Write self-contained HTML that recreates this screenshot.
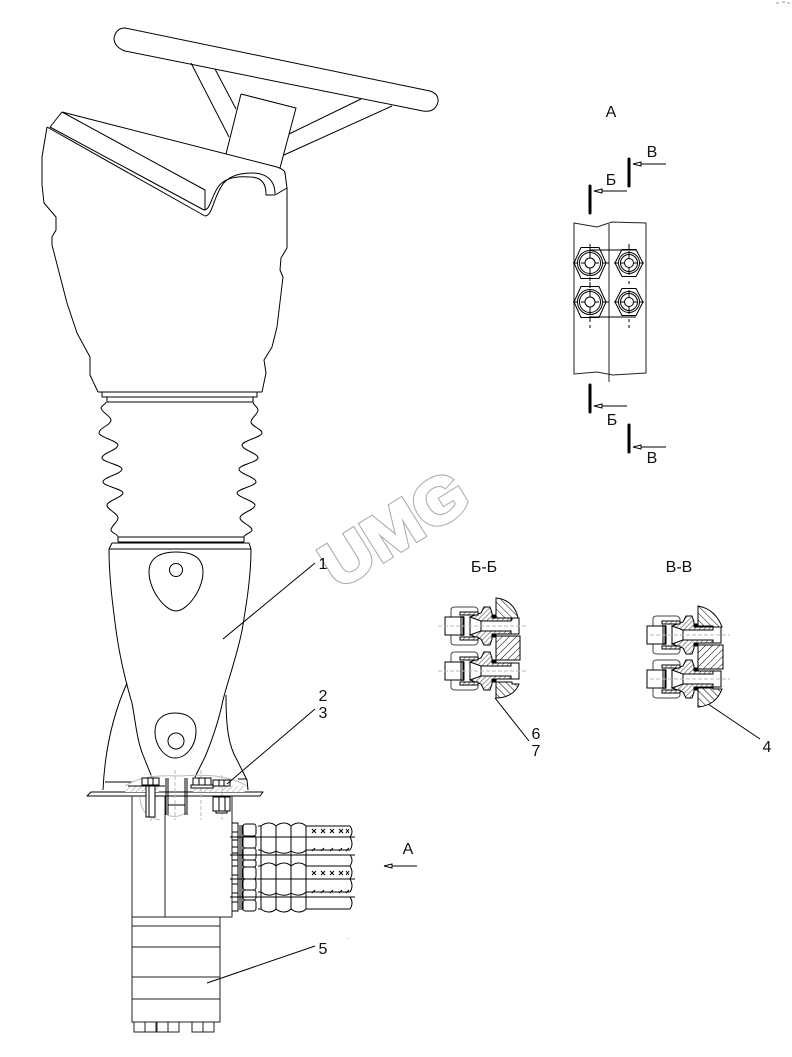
<!DOCTYPE html>
<html><head><meta charset="utf-8"><style>
html,body{margin:0;padding:0;background:#fff}
svg{display:block}
text{font-family:"Liberation Sans",sans-serif;font-size:16px;fill:#111;text-anchor:middle}
</style></head><body>
<svg width="792" height="1057" viewBox="0 0 792 1057" xmlns="http://www.w3.org/2000/svg">
<defs>
<pattern id="h" width="5" height="5" patternUnits="userSpaceOnUse" patternTransform="rotate(-45)"><rect width="5" height="5" fill="#fff"/><line x1="0" y1="0" x2="0" y2="5" stroke="#000" stroke-width="1"/></pattern>
<pattern id="h4" width="5" height="5" patternUnits="userSpaceOnUse" patternTransform="rotate(45)"><rect width="5" height="5" fill="#fff"/><line x1="0" y1="0" x2="0" y2="5" stroke="#000" stroke-width="1"/></pattern>
<pattern id="h2" width="3.500" height="3.500" patternUnits="userSpaceOnUse" patternTransform="rotate(45)"><rect width="3.500" height="3.500" fill="#fff"/><line x1="0" y1="0" x2="0" y2="3.500" stroke="#222" stroke-width=".9"/></pattern>
<pattern id="h3" width="4" height="4" patternUnits="userSpaceOnUse" patternTransform="rotate(45)"><rect width="4" height="4" fill="#fff"/><line x1="0" y1="0" x2="0" y2="4" stroke="#999" stroke-width="1"/></pattern>
<g id="fit" fill="none" stroke="#000" stroke-width="1">
<path d="M-18-13V-16Q-19-19-22-19H-41Q-45-19-45-16V-9M-18 13V16Q-19 19-22 19H-41Q-45 19-45 16V9" stroke="#444"/>
<path d="M-26-9L-15-5H15V-8H-4V-13L-6-19H-12L-15-13L-18-12Z" fill="url(#h2)"/>
<path d="M-26 9L-15 5H15V8H-4V13L-6 19H-12L-15 13L-18 12Z" fill="url(#h2)"/>
<path d="M-36-14H-18V-11H-36ZM-36 11H-18V14H-36Z" fill="url(#h2)"/>
<path d="M-51-9H-32V9H-51ZM-35-10V10M-33-10V10M-26-9V9M-15-5V5"/>
<path d="M-3-11H0V-8H-3ZM-3 8H0V11H-3Z" fill="#000"/>
<path d="M15-8H23V8H15"/>
</g>
<g id="hexL" fill="none" stroke="#000">
<path d="M-16 0L-9-15.500H9L16 0L9 15.500H-9Z"/><circle r="12.500"/><circle r="10.500"/><circle r="5"/>
<path d="M-17 0H-13M-9 0H-5M5 0H9M13 0H19M0-18V-14M0-12V-5M0 5V12M0 14V18" stroke-width="1"/>
</g>
<g id="hexR" fill="none" stroke="#000">
<path d="M-14 0L-7-13.500H7L14 0L7 13.500H-7Z"/><circle r="10.500"/><circle r="8.500"/><circle r="4.500"/>
<path d="M-15 0H-11M-8 0H-4M4 0H8M11 0H15M0-12V-4M0 4V12"/>
</g>
</defs>
<rect width="792" height="1057" fill="#fff"/>

<!-- watermark -->
<text x="338" y="590" transform="rotate(-32 338 590)" textLength="160" lengthAdjust="spacingAndGlyphs" style="font-size:64px;font-weight:bold;fill:#aaa;stroke:#aaa;stroke-width:4;text-anchor:start">UMG</text>
<text x="338" y="590" transform="rotate(-32 338 590)" textLength="160" lengthAdjust="spacingAndGlyphs" style="font-size:64px;font-weight:bold;fill:#fff;stroke:#fff;stroke-width:2;text-anchor:start">UMG</text>

<g fill="none" stroke="#000" stroke-width="1" stroke-linejoin="round">
<!-- handle -->
<path d="M125 28L430 91Q439 94 438 102Q435 113 423 111L125 51Q114 47 114 38Q116 28 125 28Z"/>
<path d="M191 63L229 137M215 69L236 109M361 99L289 134M392 106L284 155"/>
<path d="M241 94L296 108L280 168M241 94L226 154"/>
<!-- head -->
<path d="M62 112L277 167Q285 170 285 173L287 188M62 112L205 190V210M62 112L50 127L204 210M47 127L205 216"/>
<path d="M47 127L42 157L42 185L44 203L56 217V230L52 237V245L67 303L77 333L90 357V375L98 392"/>
<path d="M287 188V248L281 258L280 270L283 277L277 327L272 347L264 360L266 373L262 392"/>
<path d="M205 216C212 216 213 200 221 187C227 176 240 173 252 173C266 173 275 180 275 194M204 210C210 210 211 198 218 187C225 177 238 176 250 177C260 177 266 182 266 194V195H275L287 188"/>
<path d="M98 392H262M102 392V397H257V392M107 397V402H253V397"/>
<!-- bellows -->
<path d="M106 402C106 404 101 406 101 408C101 412 111 416 111 420C111 425 99 428 99 433C99 437 118 441 118 445C118 450 102 453 102 458C102 462 122 465 122 469C122 474 103 477 103 482C103 486 123 489 123 493C123 497 107 501 107 505C107 510 118 513 118 518C118 522 111 526 111 530C111 533 118 534 118 537"/>
<path d="M253 402C253 405 258 407 258 410C258 414 251 418 251 422C251 426 262 429 262 433C262 437 242 441 242 445C242 450 258 453 258 458C258 462 239 465 239 469C239 474 256 477 256 482C256 486 237 489 237 493C237 497 255 501 255 505C255 510 240 513 240 518C240 522 252 526 252 530C252 533 244 534 244 537"/>
<!-- lower body -->
<path d="M118 537H244M118 542H244M112 543H249L251 549M112 543L109 549H251M118 537V542M244 537V542"/>
<path d="M109 549C109 575 112 600 116 630C120 660 128 690 132 703C136 725 137 740 143 755L153 780"/>
<path d="M251 549C251 575 247 600 243 625C239 650 228 680 223 700C218 725 210 745 205 757L195 777"/>
<path d="M127 683C115 710 105 745 103 790M226 695C226 725 228 745 237 760L247 780L248 790"/>
<path d="M176 552C190 552 203 556 203 572C203 590 187 611 176 611C165 611 149 590 149 572C149 556 163 552 176 552Z"/>
<circle cx="176" cy="570" r="6.500"/>
<path d="M175 713C186 713 196 718 196 731C196 746 186 758 175 758C165 758 155 746 155 732C155 718 165 713 175 713Z"/>
<circle cx="176" cy="741" r="8"/>
<!-- flange/plate -->
<path d="M105 782H133M238 779H247"/>
<path d="M91 792H263L260 796H87Z" fill="#fff"/>
</g>

<!-- hatch band and gray detail -->
<path d="M125 786H159V792H125ZM193 786H245V792H193ZM147 796H146V817H147Z" fill="url(#h3)" stroke="none"/>
<path d="M125 786C140 776 160 775 180 776C205 774 228 775 247 786" fill="none" stroke="#bbb" stroke-width="1"/>
<path d="M140 797C140 808 146 818 160 820M167 815Q177 819 187 812" fill="none" stroke="#bbb" stroke-width="1"/>
<path d="M175 770V820M201 770V820M222 775V820M151 775V822" fill="none" stroke="#bbb" stroke-dasharray="4 2"/>

<g fill="none" stroke="#000" stroke-width="1">
<!-- bolts -->
<path d="M142 778H159V785H142ZM148 778V785M153 778V785" fill="#fff"/>
<path d="M128 786H165"/>
<rect x="146" y="786" width="9" height="31" fill="#fff"/>
<path d="M149 786V817" />
<path d="M193 778H211V785H193ZM199 778V785M205 778V785M191 785H213V788H191ZM213 780H230V786H213ZM219 780V786M224 780V786" fill="#fff"/>
<path d="M213 797H230V811H213ZM219 797V811M225 797V811M216 811V813H227V811M212 796H232" fill="#fff"/>
<path d="M166 778V815M168 778V815M185 778V815M187 778V815"/>
<path d="M168 805H185"/>
<!-- main block -->
<path d="M132 796V917H232V796M165 796V917" stroke="#222"/>
<path d="M132 917V1022H220V917M132 926H220M132 947H220M132 977H220M132 999H220" stroke="#222"/>
<path d="M134 1022V1032H156V1022M145 1022V1032M157 1022V1032H179V1022M168 1022V1032M192 1022V1032H214V1022M203 1022V1032" stroke="#222"/>
<!-- hoses -->
<path d="M232 823H238V911H232M232 832H238M232 840H238M232 847H238M232 853H238M232 860H238M232 866H238M232 875H238M232 884H238M232 893H238M232 902H238"/>
<path d="M240 825V910M242 825V910"/>
<rect x="243" y="824" width="13" height="12" rx="2.500"/><rect x="243" y="836" width="13" height="12" rx="2.500"/><rect x="243" y="848" width="13" height="12" rx="2.500"/><rect x="243" y="860" width="13" height="7" rx="2"/><rect x="243" y="867" width="13" height="12" rx="2.500"/><rect x="243" y="879" width="13" height="11" rx="2.500"/><rect x="243" y="890" width="13" height="10" rx="2.500"/><rect x="243" y="900" width="13" height="11" rx="2.500"/>
<path d="M258 826H261C266 822 272 822 276 826C281 822 287 822 291 826C296 822 302 822 306 826H350"/>
<path d="M258 850H261C266 854 272 854 276 851C281 854 287 854 291 851C296 854 302 854 306 850H350"/>
<path d="M258 866H261C266 862 272 862 276 866C281 862 287 862 291 866C296 862 302 862 306 866H350"/>
<path d="M258 892H261C266 896 272 896 276 893C281 896 287 896 291 893C296 896 302 896 306 892H350"/>
<path d="M258 909H261C266 913 272 913 276 909C281 913 287 913 291 909C296 913 302 913 306 909H350"/>
<path d="M261 826V909M276 826V909M291 826V909M306 826V909" />
<path d="M230 837H355M230 855H355M230 879H355M230 897H355"/>
<path d="M350 826Q354 832 350 837Q354 844 350 850M350 855Q354 860 350 866M350 866Q354 872 350 879Q354 886 350 892M350 897Q354 903 350 909"/>
<path d="M312 829L316 833M316 829L312 833M321 829L325 833M325 829L321 833M330 829L334 833M334 829L330 833M339 829L343 833M343 829L339 833M346 829L349 833M349 829L346 833M312 871L316 875M316 871L312 875M321 871L325 875M325 871L321 875M330 871L334 875M334 871L330 875M339 871L343 875M343 871L339 875M346 871L349 875M349 871L346 875"/>
<path d="M312 851L315 848M321 851L324 848M330 851L333 848M339 851L342 848M346 851L349 848M312 893L315 890M321 893L324 890M330 893L333 890M339 893L342 890M346 893L349 890"/>
<!-- leaders -->
<path d="M223 639L315 563M227 784L315 709M207 983L315 946M495 698L529 741M708 704L760 739"/>
<!-- arrow A -->
<path d="M392 866H417M384 866L392 864V868Z" fill="#fff"/>
<!-- view A -->
<path d="M574 223L597 227L612 222L646 223V373L613 375L597 372L574 374Z" stroke="#222"/>
<path d="M609 224V382" stroke="#222"/>
<path d="M590 250H636M590 317H636" stroke="#000"/>
<use href="#hexL" x="590" y="263"/><use href="#hexL" x="590" y="302"/>
<use href="#hexR" x="629" y="263"/><use href="#hexR" x="629" y="302"/>
<path d="M590 244V250M590 282V284M590 320V322M590 325V328M629 244V250M629 281V284M629 319V322M629 325V328"/>
</g>
<g fill="none" stroke="#000">
<path d="M590 186V213M590 385V412M629 159V186M629 425V452" stroke-width="3" stroke-linecap="round"/>
<path d="M602 191H627M641 164H666M602 406H627M641 447H666"/>
<path d="M594 191L602 189V193ZM633 164L641 162V166ZM594 406L602 404V408ZM633 447L641 445V449Z" fill="#fff"/>
</g>

<!-- section Б-Б -->
<g stroke="#000" stroke-width="1">
<path d="M496 598C508 599 516 607 518 618H512V620H496Z" fill="url(#h)"/>
<path d="M496 636H520V660H496Z" fill="url(#h4)"/>
<path d="M496 682H512V684H519C516 692 508 698 496 698Z" fill="url(#h)"/>
</g>
<use href="#fit" x="496" y="626"/><use href="#fit" x="496" y="671"/>
<path d="M438 626H528M438 671H528" stroke="#bbb" stroke-dasharray="4 2" fill="none"/>

<!-- section В-В -->
<g stroke="#000" stroke-width="1">
<path d="M698 606C710 608 718 616 722 627H713V626H698Z" fill="url(#h)"/>
<path d="M698 645H723V669H698Z" fill="url(#h4)"/>
<path d="M698 688H713V689H722C718 700 710 706 698 707Z" fill="url(#h)"/>
</g>
<use href="#fit" x="698" y="635"/><use href="#fit" x="698" y="679"/>
<path d="M650 635H730M650 679H730" stroke="#bbb" stroke-dasharray="4 2" fill="none"/>

<!-- tiny specks -->
<path d="M776 3H779M782 2H785M787 3H790" stroke="#999" stroke-width="1" fill="none"/>
<path d="M348 938V939" stroke="#aaa" fill="none"/>

<!-- labels -->
<text x="323" y="569">1</text>
<text x="323" y="701">2</text>
<text x="323" y="718">3</text>
<text x="323" y="954">5</text>
<text x="408" y="854">А</text>
<text x="611" y="117">А</text>
<text x="652" y="157">В</text>
<text x="611" y="185">Б</text>
<text x="612" y="425">Б</text>
<text x="652" y="463">В</text>
<text x="484" y="572">Б-Б</text>
<text x="679" y="572">В-В</text>
<text x="536" y="739">6</text>
<text x="536" y="756">7</text>
<text x="767" y="752">4</text>
</svg>
</body></html>
